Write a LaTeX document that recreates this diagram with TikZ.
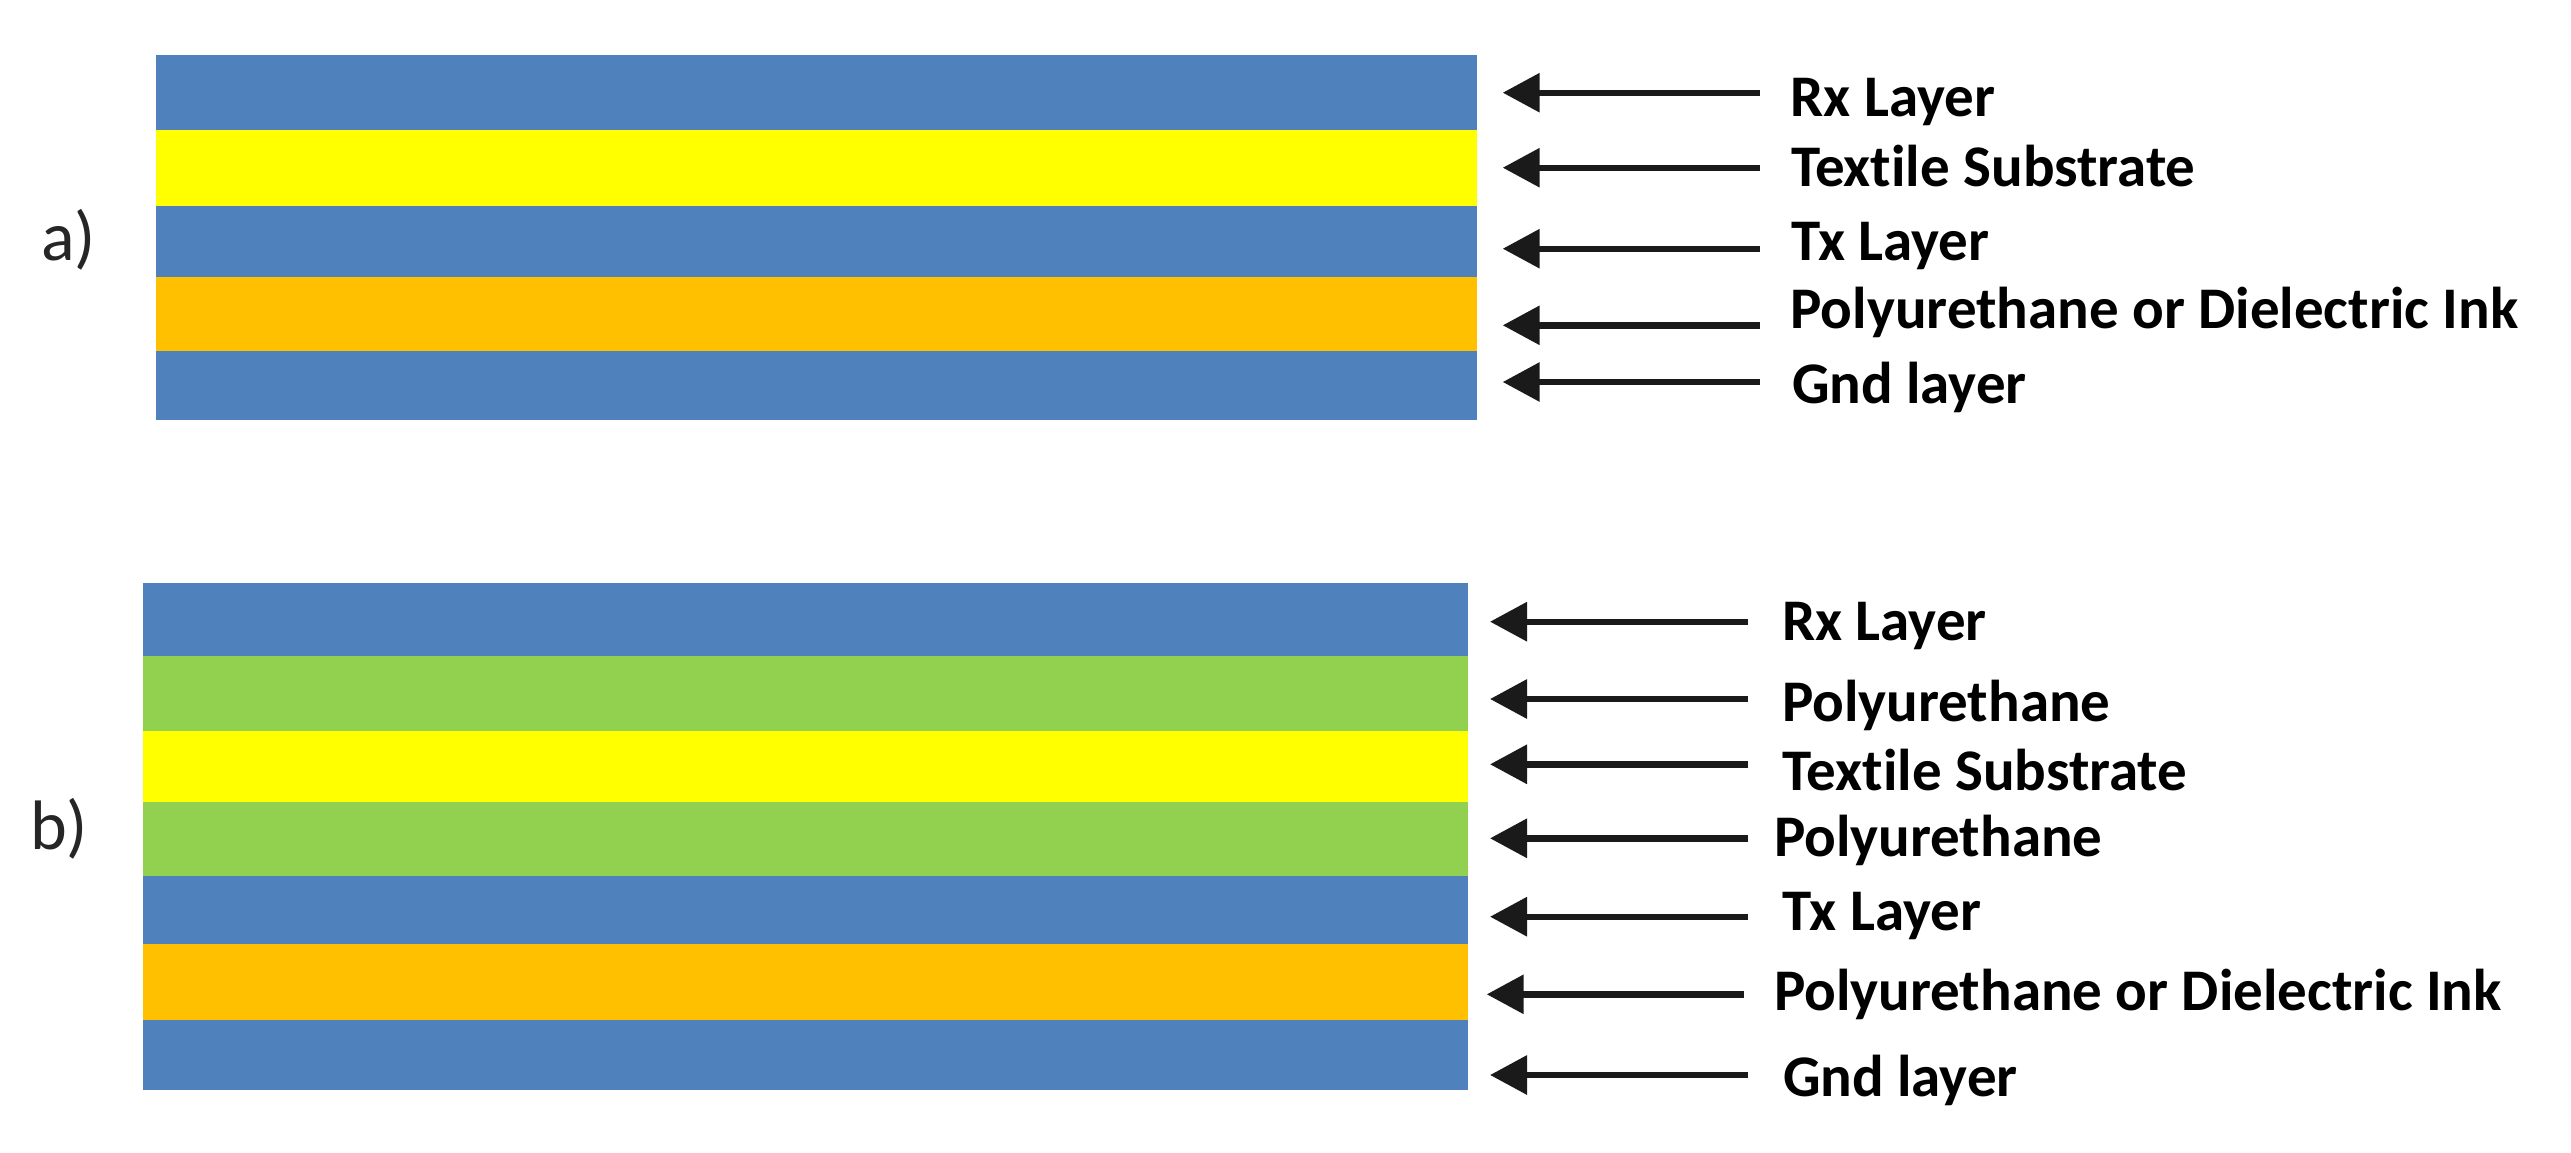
\documentclass[tikz,border=0pt]{standalone}
\usepackage{fontspec}
\setmainfont{Carlito}[Ligatures=NoCommon]
\usetikzlibrary{arrows.meta}
\definecolor{lblue}{HTML}{4F81BD}
\definecolor{lyellow}{HTML}{FFFF00}
\definecolor{lorange}{HTML}{FFC000}
\definecolor{lgreen}{HTML}{92D050}
\definecolor{arrowgray}{HTML}{1A1A1A}
\tikzset{
  layerbox/.style={inner sep=0pt, outer sep=0pt, draw=none, anchor=north west},
  arr/.style={line width=3.2pt, draw=arrowgray, -{Triangle[length=18.5pt,width=19pt]}},
  lbl/.style={anchor=base west, inner sep=0pt, outer sep=0pt, text=black,
              font=\bfseries\fontsize{29.5}{32}\selectfont},
  panel/.style={anchor=base west, inner sep=0pt, outer sep=0pt, text=black!85,
              font=\fontsize{35}{38}\selectfont}
}
\begin{document}
\begin{tikzpicture}[x=0.5pt,y=-0.5pt]
\useasboundingbox (0,0) rectangle (2571,1152);
% panel a layers
\node[layerbox, fill=lblue,   minimum width=660.5pt, minimum height=37.5pt] (a1) at (156,55) {};
\node[layerbox, fill=lyellow, minimum width=660.5pt, minimum height=38pt]   (a2) at (156,130) {};
\node[layerbox, fill=lblue,   minimum width=660.5pt, minimum height=35.5pt] (a3) at (156,206) {};
\node[layerbox, fill=lorange, minimum width=660.5pt, minimum height=37pt]   (a4) at (156,277) {};
\node[layerbox, fill=lblue,   minimum width=660.5pt, minimum height=34.5pt] (a5) at (156,351) {};
% panel b layers
\node[layerbox, fill=lblue,   minimum width=662.5pt, minimum height=36.5pt] (b1) at (143,583) {};
\node[layerbox, fill=lgreen,  minimum width=662.5pt, minimum height=37.5pt] (b2) at (143,656) {};
\node[layerbox, fill=lyellow, minimum width=662.5pt, minimum height=35.5pt] (b3) at (143,731) {};
\node[layerbox, fill=lgreen,  minimum width=662.5pt, minimum height=37pt]   (b4) at (143,802) {};
\node[layerbox, fill=lblue,   minimum width=662.5pt, minimum height=34pt]   (b5) at (143,876) {};
\node[layerbox, fill=lorange, minimum width=662.5pt, minimum height=38pt]   (b6) at (143,944) {};
\node[layerbox, fill=lblue,   minimum width=662.5pt, minimum height=35pt]   (b7) at (143,1020) {};
% panel letters
\node[panel] (pa) at (41,260) {a)};
\node[panel] (pb) at (30,849) {b)};
% labels a
\node[lbl] (la1) at (1790.5,116.7) {Rx Layer};
\node[lbl] (la2) at (1791,186.7) {Textile Substrate};
\node[lbl] (la3) at (1791,260.7) {Tx Layer};
\node[lbl] (la4) at (1790.5,328.3) {Polyurethane or Dielectric Ink};
\node[lbl] (la5) at (1792,403.3) {Gnd layer};
% labels b
\node[lbl] (lb1) at (1782,640) {Rx Layer};
\node[lbl] (lb2) at (1782,721.7) {Polyurethane};
\node[lbl] (lb3) at (1782.7,790) {Textile Substrate};
\node[lbl] (lb4) at (1774,856.7) {Polyurethane};
\node[lbl] (lb5) at (1782.7,930.7) {Tx Layer};
\node[lbl] (lb6) at (1774,1010) {Polyurethane or Dielectric Ink};
\node[lbl] (lb7) at (1783,1096.7) {Gnd layer};
% arrows a
\foreach \i/\y in {1/92.7,2/167.7,3/248.7,4/325.3,5/382}{
  \coordinate (ta\i) at (1760,\y);
  \coordinate (ha\i) at (1502.7,\y);
  \draw[arr] (ta\i) -- (ha\i);
}
% arrows b
\foreach \i/\y/\xt/\xh in {1/621.7/1748.3/1490,2/699/1748.3/1490,3/764.3/1748.3/1490,4/838.3/1748.3/1490,5/916.7/1748.3/1490,6/994.3/1744/1486.7,7/1075/1748.3/1490}{
  \coordinate (tb\i) at (\xt,\y);
  \coordinate (hb\i) at (\xh,\y);
  \draw[arr] (tb\i) -- (hb\i);
}
\end{tikzpicture}
\end{document}
